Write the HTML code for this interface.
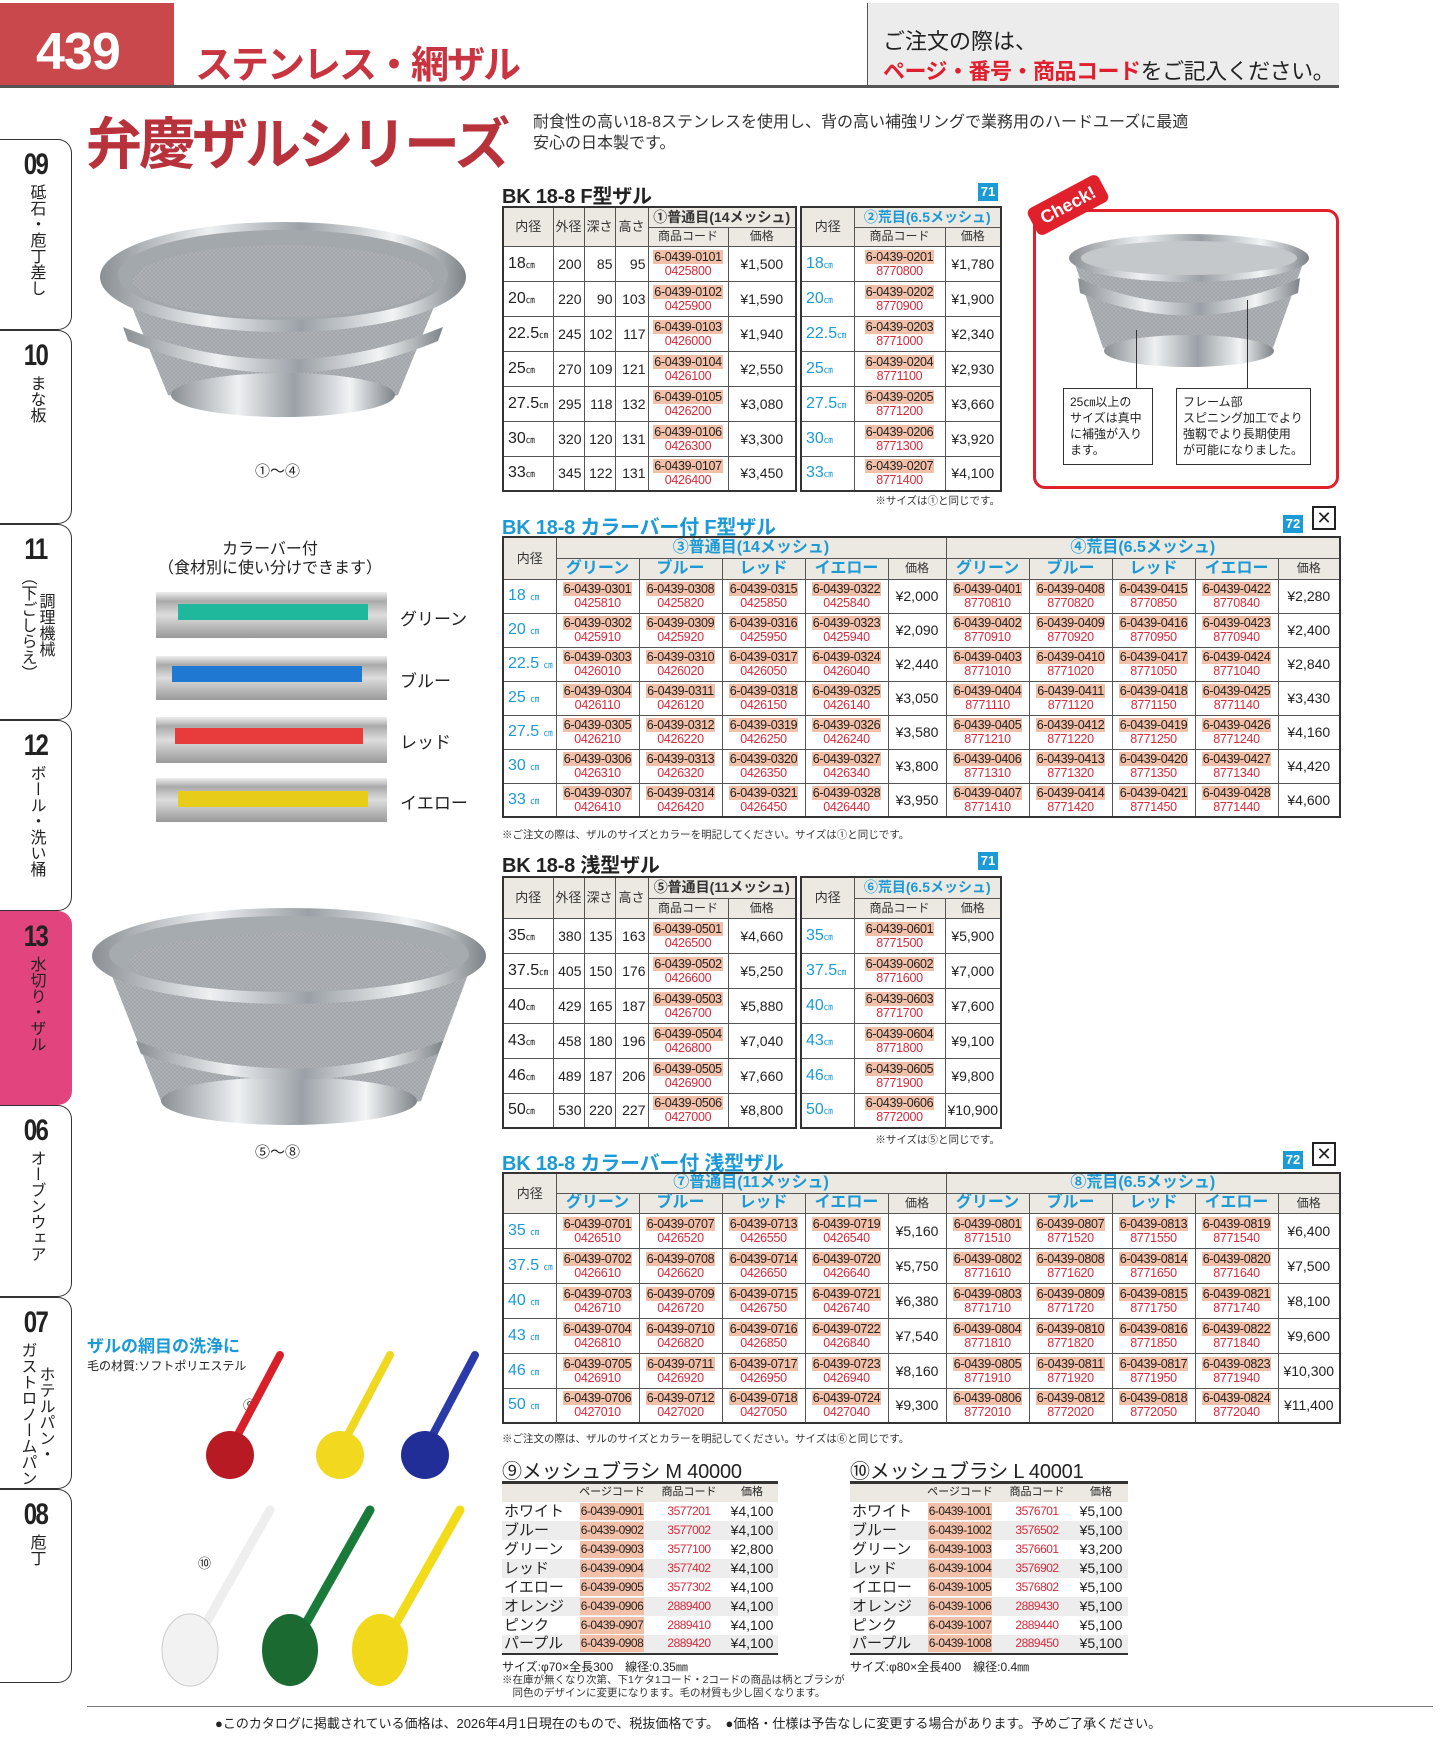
<!DOCTYPE html>
<html><head><meta charset="utf-8"><style>
*{margin:0;padding:0;box-sizing:border-box}
body{width:1444px;height:1754px;position:relative;background:#fff;font-family:"Liberation Sans","Noto Sans CJK JP",sans-serif;color:#222;overflow:hidden}
.a{position:absolute}
table{border-collapse:collapse;table-layout:fixed;position:absolute;border:2px solid #333}
td{border:1px solid #555;text-align:center;vertical-align:middle;padding:0;white-space:nowrap;overflow:hidden}
.h td{background:#ece8e2;font-size:13px;color:#333;line-height:15px}
.cd{font-size:12.5px;line-height:14px;letter-spacing:-.3px}
.cd b{font-weight:normal;background:#f2c0a8;color:#222;padding:0 1px;display:inline-block}
.cd i{font-style:normal;color:#d62a3a;display:block}
.sz{font-size:16px;text-align:left;padding-left:4px}
.sz small{font-size:9px}
.bl{color:#1c9ad6}
.pr{font-size:14px}
.n{font-size:14px;text-align:right;padding-right:2px}
.ttl{font-size:20px;font-weight:bold;letter-spacing:-.2px}
.ic{width:20px;height:18px;background:#1c9ad6;color:#fff;font-size:13px;font-weight:bold;text-align:center;line-height:18px}
.note{font-size:10.5px;color:#333}
.hc td.c{color:#1c9ad6;font-size:16px;font-weight:bold;line-height:18px}
.tab{position:absolute;left:0;width:72px;border:1.5px solid #333;border-left:none;border-radius:0 14px 14px 0;text-align:center}
.tab .num{font-size:30px;font-weight:bold;letter-spacing:-2px;margin-top:8px;transform:scaleX(.8)}
.tab .v{writing-mode:vertical-rl;font-size:16px;margin:2px auto 0;line-height:18px}
.bt{border:none;border-top:3px solid #333;border-bottom:2px solid #333}
.bt td{border:none;font-size:14px;line-height:17px;height:19px}
.bt tr.g td{background:#ededed}
.bt .nm{text-align:left;font-size:15px;padding-left:2px}
.bt .cd{font-size:12px;letter-spacing:-.5px;line-height:17px}
.bx{position:absolute;border:1.5px solid #333;background:#fff;font-size:12px;line-height:16px;padding:5px 6px;white-space:nowrap}
</style></head><body>

<!-- header -->
<div class="a" style="left:0;top:3px;width:174px;height:83px;background:#c8484c"></div>
<div class="a" style="left:36px;top:22px;color:#fff;font-size:52px;font-weight:bold;letter-spacing:-1px">439</div>
<div class="a" style="left:195px;top:34px;color:#c8343f;font-size:38px;font-weight:bold;letter-spacing:-2px">ステンレス・網ザル</div>
<div class="a" style="left:867px;top:3px;width:472px;height:83px;background:#ececec;border-left:1px solid #555"></div>
<div class="a" style="left:883px;top:24px;font-size:22px;color:#222">ご注文の際は、</div>
<div class="a" style="left:883px;top:54px;font-size:22px;color:#222;letter-spacing:-.5px"><span style="color:#e0202e;font-weight:bold">ページ・番号・商品コード</span>をご記入ください。</div>
<div class="a" style="left:0;top:85px;width:1339px;height:3px;background:#555"></div>

<div class="a" style="left:86px;top:100px;color:#b8323c;font-size:56px;font-weight:bold;letter-spacing:-3px">弁慶ザルシリーズ</div>
<div class="a" style="left:533px;top:112px;font-size:16px;line-height:21px;color:#333">耐食性の高い18-8ステンレスを使用し、背の高い補強リングで業務用のハードユーズに最適<br>安心の日本製です。</div>

<!-- tabs -->
<div class="tab" style="top:139px;height:191px"><div class="num">09</div><div class="v">砥石・庖丁差し</div></div>
<div class="tab" style="top:330px;height:194px"><div class="num">10</div><div class="v">まな板</div></div>
<div class="tab" style="top:524px;height:196px"><div class="num">11</div><div class="v">調理機械<br>（下ごしらえ）</div></div>
<div class="tab" style="top:720px;height:191px"><div class="num">12</div><div class="v">ボール・洗い桶</div></div>
<div class="tab" style="top:911px;height:194px;background:#e2457d;border-color:#e2457d"><div class="num">13</div><div class="v">水切り・ザル</div></div>
<div class="tab" style="top:1105px;height:192px"><div class="num">06</div><div class="v">オーブンウェア</div></div>
<div class="tab" style="top:1297px;height:192px"><div class="num">07</div><div class="v">ホテルパン・<br>ガストロノームパン</div></div>
<div class="tab" style="top:1489px;height:194px"><div class="num">08</div><div class="v">庖丁</div></div>

<!-- bowl 1 -->
<svg class="a" style="left:98px;top:217px" width="370" height="206">
<defs><linearGradient id="st" x1="0" x2="1"><stop offset="0" stop-color="#8a8f94"/><stop offset=".3" stop-color="#eef0f2"/><stop offset=".55" stop-color="#9aa0a6"/><stop offset=".8" stop-color="#f2f4f5"/><stop offset="1" stop-color="#7d8388"/></linearGradient>
<pattern id="mesh" width="4" height="4" patternUnits="userSpaceOnUse"><rect width="4" height="4" fill="#b0b4b8"/><path d="M0 0L4 4M4 0L0 4" stroke="#9a9ea2" stroke-width=".6"/></pattern></defs>
<path d="M30 80 Q185 150 340 80 L300 178 Q185 205 70 178Z" fill="url(#mesh)"/>
<ellipse cx="185" cy="178" rx="112" ry="22" fill="url(#st)"/>
<ellipse cx="185" cy="60" rx="183" ry="55" fill="url(#st)"/>
<ellipse cx="185" cy="58" rx="165" ry="45" fill="#a3a8ac"/>
<ellipse cx="185" cy="64" rx="150" ry="36" fill="url(#mesh)"/>
<path d="M25 110 Q185 175 345 110 L340 124 Q185 188 30 124Z" fill="url(#st)"/>
</svg>
<div class="a" style="left:255px;top:460px;font-size:15px">①〜④</div>

<!-- color bars -->
<div class="a" style="left:150px;top:540px;width:240px;text-align:center;font-size:16px;line-height:19px">カラーバー付<br>（食材別に使い分けできます）</div>
<div class="a" style="left:156px;top:592px;width:231px;height:46px;background:linear-gradient(#eee,#aaa 20%,#ddd 50%,#999)"></div><div class="a" style="left:178px;top:604px;width:190px;height:16px;background:#1fb89c"></div>
<div class="a" style="left:156px;top:656px;width:231px;height:44px;background:linear-gradient(#eee,#aaa 20%,#ddd 50%,#999)"></div><div class="a" style="left:172px;top:666px;width:190px;height:16px;background:#1f78d2"></div>
<div class="a" style="left:156px;top:717px;width:231px;height:46px;background:linear-gradient(#eee,#aaa 20%,#ddd 50%,#999)"></div><div class="a" style="left:175px;top:728px;width:188px;height:16px;background:#e83c3c"></div>
<div class="a" style="left:156px;top:778px;width:231px;height:44px;background:linear-gradient(#eee,#aaa 20%,#ddd 50%,#999)"></div><div class="a" style="left:178px;top:791px;width:190px;height:16px;background:#e8cc1a"></div>
<div class="a" style="left:400px;top:605px;font-size:17px">グリーン</div>
<div class="a" style="left:400px;top:667px;font-size:17px">ブルー</div>
<div class="a" style="left:400px;top:728px;font-size:17px">レッド</div>
<div class="a" style="left:400px;top:789px;font-size:17px">イエロー</div>

<!-- bowl 2 -->
<svg class="a" style="left:91px;top:906px" width="397" height="222">
<path d="M15 55 Q200 130 382 55 L330 195 Q200 220 70 195Z" fill="url(#mesh)"/>
<ellipse cx="198" cy="195" rx="128" ry="24" fill="url(#st)"/>
<ellipse cx="198" cy="50" rx="197" ry="48" fill="url(#st)"/>
<ellipse cx="198" cy="48" rx="180" ry="38" fill="#a6abaf"/>
<ellipse cx="198" cy="56" rx="160" ry="28" fill="url(#mesh)"/>
<path d="M45 135 Q200 190 352 135 L347 148 Q200 200 50 148Z" fill="url(#st)"/>
</svg>
<div class="a" style="left:255px;top:1141px;font-size:15px">⑤〜⑧</div>

<!-- brushes -->
<div class="a" style="left:87px;top:1332px;font-size:17px;font-weight:bold;color:#1c9ad6">ザルの網目の洗浄に</div>
<div class="a" style="left:87px;top:1357px;font-size:12px">毛の材質:ソフトポリエステル</div>
<div class="a" style="left:243px;top:1395px;font-size:13px">⑨</div>
<div class="a" style="left:198px;top:1553px;font-size:13px">⑩</div>
<svg class="a" style="left:150px;top:1345px" width="340" height="350">
<g stroke-linecap="round">
<line x1="130" y1="10" x2="85" y2="95" stroke="#d8202a" stroke-width="8"/><circle cx="80" cy="110" r="24" fill="#b81a24"/>
<line x1="240" y1="10" x2="195" y2="95" stroke="#f0d820" stroke-width="8"/><circle cx="190" cy="110" r="24" fill="#f2d81e"/>
<line x1="325" y1="10" x2="280" y2="95" stroke="#2a3aa8" stroke-width="8"/><circle cx="275" cy="110" r="24" fill="#222e98"/>
<line x1="120" y1="165" x2="55" y2="280" stroke="#eee" stroke-width="9"/><ellipse cx="40" cy="305" rx="28" ry="36" fill="#f2f2f2" stroke="#ccc"/>
<line x1="220" y1="165" x2="155" y2="280" stroke="#1a7a3a" stroke-width="9"/><ellipse cx="140" cy="305" rx="28" ry="36" fill="#1a6a32"/>
<line x1="310" y1="165" x2="245" y2="280" stroke="#f2dc1a" stroke-width="9"/><ellipse cx="230" cy="305" rx="28" ry="36" fill="#f2d81a"/>
</g></svg>

<!-- Check box -->
<div class="a" style="left:1033px;top:209px;width:306px;height:280px;border:3px solid #e0202a;border-radius:12px"></div>
<div class="a" style="left:1028px;top:190px;width:80px;height:30px;background:#e0202a;color:#fff;font-weight:bold;font-size:18px;transform:rotate(-28deg);text-align:center;line-height:30px;border-radius:6px">Check!</div>
<svg class="a" style="left:1068px;top:233px" width="244" height="140">
<path d="M5 25 Q120 70 237 25 L205 115 Q120 140 35 115Z" fill="url(#mesh)"/>
<ellipse cx="121" cy="118" rx="85" ry="16" fill="url(#st)"/>
<ellipse cx="121" cy="25" rx="120" ry="24" fill="url(#st)"/>
<ellipse cx="121" cy="25" rx="108" ry="17" fill="#c5c8ca"/>
<path d="M10 45 Q121 95 232 45 L230 60 Q121 105 12 60Z" fill="url(#st)"/>
</svg>
<div class="a" style="left:1136px;top:330px;width:1px;height:58px;background:#333"></div>
<div class="a" style="left:1247px;top:300px;width:1px;height:88px;background:#333"></div>
<div class="bx" style="left:1063px;top:388px;width:90px;height:77px">25㎝以上の<br>サイズは真中<br>に補強が入り<br>ます。</div>
<div class="bx" style="left:1176px;top:388px;width:135px;height:77px">フレーム部<br>スピニング加工でより<br>強靱でより長期使用<br>が可能になりました。</div>

<!-- Table 1 -->
<div class="a ttl" style="left:502px;top:180px">BK 18-8 F型ザル</div>
<div class="a ic" style="left:978px;top:183px">71</div>
<table style="left:502px;top:206px;width:293px">
<colgroup><col style="width:50px"><col style="width:31px"><col style="width:31px"><col style="width:33px"><col style="width:80px"><col style="width:68px"></colgroup>
<tr class="h" style="height:20px"><td rowspan="2">内径</td><td rowspan="2">外径</td><td rowspan="2">深さ</td><td rowspan="2">高さ</td><td colspan="2" style="font-size:14px;font-weight:bold">①普通目(14メッシュ)</td></tr>
<tr class="h" style="height:19px"><td style="font-size:12px">商品コード</td><td style="font-size:12px">価格</td></tr>
<tr style="height:35px"><td class="sz">18<small>㎝</small></td><td class="n">200</td><td class="n">85</td><td class="n">95</td><td class="cd"><b>6-0439-0101</b><i>0425800</i></td><td class="pr">¥1,500</td></tr>
<tr style="height:35px"><td class="sz">20<small>㎝</small></td><td class="n">220</td><td class="n">90</td><td class="n">103</td><td class="cd"><b>6-0439-0102</b><i>0425900</i></td><td class="pr">¥1,590</td></tr>
<tr style="height:35px"><td class="sz">22.5<small>㎝</small></td><td class="n">245</td><td class="n">102</td><td class="n">117</td><td class="cd"><b>6-0439-0103</b><i>0426000</i></td><td class="pr">¥1,940</td></tr>
<tr style="height:35px"><td class="sz">25<small>㎝</small></td><td class="n">270</td><td class="n">109</td><td class="n">121</td><td class="cd"><b>6-0439-0104</b><i>0426100</i></td><td class="pr">¥2,550</td></tr>
<tr style="height:35px"><td class="sz">27.5<small>㎝</small></td><td class="n">295</td><td class="n">118</td><td class="n">132</td><td class="cd"><b>6-0439-0105</b><i>0426200</i></td><td class="pr">¥3,080</td></tr>
<tr style="height:35px"><td class="sz">30<small>㎝</small></td><td class="n">320</td><td class="n">120</td><td class="n">131</td><td class="cd"><b>6-0439-0106</b><i>0426300</i></td><td class="pr">¥3,300</td></tr>
<tr style="height:35px"><td class="sz">33<small>㎝</small></td><td class="n">345</td><td class="n">122</td><td class="n">131</td><td class="cd"><b>6-0439-0107</b><i>0426400</i></td><td class="pr">¥3,450</td></tr>
</table>
<table style="left:800px;top:206px;width:200px">
<colgroup><col style="width:53px"><col style="width:91px"><col style="width:56px"></colgroup>
<tr class="h" style="height:20px"><td rowspan="2">内径</td><td colspan="2" style="font-size:14px;font-weight:bold;color:#1c9ad6">②荒目(6.5メッシュ)</td></tr>
<tr class="h" style="height:19px"><td style="font-size:12px">商品コード</td><td style="font-size:12px">価格</td></tr>
<tr style="height:35px"><td class="sz bl">18<small>㎝</small></td><td class="cd"><b>6-0439-0201</b><i>8770800</i></td><td class="pr">¥1,780</td></tr>
<tr style="height:35px"><td class="sz bl">20<small>㎝</small></td><td class="cd"><b>6-0439-0202</b><i>8770900</i></td><td class="pr">¥1,900</td></tr>
<tr style="height:35px"><td class="sz bl">22.5<small>㎝</small></td><td class="cd"><b>6-0439-0203</b><i>8771000</i></td><td class="pr">¥2,340</td></tr>
<tr style="height:35px"><td class="sz bl">25<small>㎝</small></td><td class="cd"><b>6-0439-0204</b><i>8771100</i></td><td class="pr">¥2,930</td></tr>
<tr style="height:35px"><td class="sz bl">27.5<small>㎝</small></td><td class="cd"><b>6-0439-0205</b><i>8771200</i></td><td class="pr">¥3,660</td></tr>
<tr style="height:35px"><td class="sz bl">30<small>㎝</small></td><td class="cd"><b>6-0439-0206</b><i>8771300</i></td><td class="pr">¥3,920</td></tr>
<tr style="height:35px"><td class="sz bl">33<small>㎝</small></td><td class="cd"><b>6-0439-0207</b><i>8771400</i></td><td class="pr">¥4,100</td></tr>
</table>
<div class="a note" style="left:870px;top:493px;width:130px;text-align:right">※サイズは①と同じです。</div>

<!-- Table 3 -->
<div class="a ttl bl" style="left:502px;top:511px">BK 18-8 カラーバー付 F型ザル</div>
<div class="a ic" style="left:1283px;top:515px">72</div>
<div class="a" style="left:1312px;top:506px;width:24px;height:24px;border:2px solid #222;font-size:18px;line-height:20px;text-align:center">✕</div>
<table class="hc" style="left:502px;top:536px;width:837px">
<colgroup><col style="width:53px"><col style="width:83px"><col style="width:83px"><col style="width:83px"><col style="width:83px"><col style="width:58px"><col style="width:83px"><col style="width:83px"><col style="width:83px"><col style="width:83px"><col style="width:62px"></colgroup>
<tr class="h" style="height:21px"><td rowspan="2">内径</td><td colspan="5" class="c">③普通目(14メッシュ)</td><td colspan="5" class="c">④荒目(6.5メッシュ)</td></tr>
<tr class="h" style="height:21px"><td class="c">グリーン</td><td class="c">ブルー</td><td class="c">レッド</td><td class="c">イエロー</td><td style="font-size:12px">価格</td><td class="c">グリーン</td><td class="c">ブルー</td><td class="c">レッド</td><td class="c">イエロー</td><td style="font-size:12px">価格</td></tr>
<tr style="height:34px"><td class="sz bl">18 <small>㎝</small></td><td class="cd"><b>6-0439-0301</b><i>0425810</i></td><td class="cd"><b>6-0439-0308</b><i>0425820</i></td><td class="cd"><b>6-0439-0315</b><i>0425850</i></td><td class="cd"><b>6-0439-0322</b><i>0425840</i></td><td class="pr">¥2,000</td><td class="cd"><b>6-0439-0401</b><i>8770810</i></td><td class="cd"><b>6-0439-0408</b><i>8770820</i></td><td class="cd"><b>6-0439-0415</b><i>8770850</i></td><td class="cd"><b>6-0439-0422</b><i>8770840</i></td><td class="pr">¥2,280</td></tr>
<tr style="height:34px"><td class="sz bl">20 <small>㎝</small></td><td class="cd"><b>6-0439-0302</b><i>0425910</i></td><td class="cd"><b>6-0439-0309</b><i>0425920</i></td><td class="cd"><b>6-0439-0316</b><i>0425950</i></td><td class="cd"><b>6-0439-0323</b><i>0425940</i></td><td class="pr">¥2,090</td><td class="cd"><b>6-0439-0402</b><i>8770910</i></td><td class="cd"><b>6-0439-0409</b><i>8770920</i></td><td class="cd"><b>6-0439-0416</b><i>8770950</i></td><td class="cd"><b>6-0439-0423</b><i>8770940</i></td><td class="pr">¥2,400</td></tr>
<tr style="height:34px"><td class="sz bl">22.5 <small>㎝</small></td><td class="cd"><b>6-0439-0303</b><i>0426010</i></td><td class="cd"><b>6-0439-0310</b><i>0426020</i></td><td class="cd"><b>6-0439-0317</b><i>0426050</i></td><td class="cd"><b>6-0439-0324</b><i>0426040</i></td><td class="pr">¥2,440</td><td class="cd"><b>6-0439-0403</b><i>8771010</i></td><td class="cd"><b>6-0439-0410</b><i>8771020</i></td><td class="cd"><b>6-0439-0417</b><i>8771050</i></td><td class="cd"><b>6-0439-0424</b><i>8771040</i></td><td class="pr">¥2,840</td></tr>
<tr style="height:34px"><td class="sz bl">25 <small>㎝</small></td><td class="cd"><b>6-0439-0304</b><i>0426110</i></td><td class="cd"><b>6-0439-0311</b><i>0426120</i></td><td class="cd"><b>6-0439-0318</b><i>0426150</i></td><td class="cd"><b>6-0439-0325</b><i>0426140</i></td><td class="pr">¥3,050</td><td class="cd"><b>6-0439-0404</b><i>8771110</i></td><td class="cd"><b>6-0439-0411</b><i>8771120</i></td><td class="cd"><b>6-0439-0418</b><i>8771150</i></td><td class="cd"><b>6-0439-0425</b><i>8771140</i></td><td class="pr">¥3,430</td></tr>
<tr style="height:34px"><td class="sz bl">27.5 <small>㎝</small></td><td class="cd"><b>6-0439-0305</b><i>0426210</i></td><td class="cd"><b>6-0439-0312</b><i>0426220</i></td><td class="cd"><b>6-0439-0319</b><i>0426250</i></td><td class="cd"><b>6-0439-0326</b><i>0426240</i></td><td class="pr">¥3,580</td><td class="cd"><b>6-0439-0405</b><i>8771210</i></td><td class="cd"><b>6-0439-0412</b><i>8771220</i></td><td class="cd"><b>6-0439-0419</b><i>8771250</i></td><td class="cd"><b>6-0439-0426</b><i>8771240</i></td><td class="pr">¥4,160</td></tr>
<tr style="height:34px"><td class="sz bl">30 <small>㎝</small></td><td class="cd"><b>6-0439-0306</b><i>0426310</i></td><td class="cd"><b>6-0439-0313</b><i>0426320</i></td><td class="cd"><b>6-0439-0320</b><i>0426350</i></td><td class="cd"><b>6-0439-0327</b><i>0426340</i></td><td class="pr">¥3,800</td><td class="cd"><b>6-0439-0406</b><i>8771310</i></td><td class="cd"><b>6-0439-0413</b><i>8771320</i></td><td class="cd"><b>6-0439-0420</b><i>8771350</i></td><td class="cd"><b>6-0439-0427</b><i>8771340</i></td><td class="pr">¥4,420</td></tr>
<tr style="height:34px"><td class="sz bl">33 <small>㎝</small></td><td class="cd"><b>6-0439-0307</b><i>0426410</i></td><td class="cd"><b>6-0439-0314</b><i>0426420</i></td><td class="cd"><b>6-0439-0321</b><i>0426450</i></td><td class="cd"><b>6-0439-0328</b><i>0426440</i></td><td class="pr">¥3,950</td><td class="cd"><b>6-0439-0407</b><i>8771410</i></td><td class="cd"><b>6-0439-0414</b><i>8771420</i></td><td class="cd"><b>6-0439-0421</b><i>8771450</i></td><td class="cd"><b>6-0439-0428</b><i>8771440</i></td><td class="pr">¥4,600</td></tr>
</table>
<div class="a note" style="left:502px;top:827px">※ご注文の際は、ザルのサイズとカラーを明記してください。サイズは①と同じです。</div>

<!-- Table 4 -->
<div class="a ttl" style="left:502px;top:849px">BK 18-8 浅型ザル</div>
<div class="a ic" style="left:978px;top:852px">71</div>
<table style="left:502px;top:876px;width:293px">
<colgroup><col style="width:50px"><col style="width:31px"><col style="width:31px"><col style="width:33px"><col style="width:80px"><col style="width:68px"></colgroup>
<tr class="h" style="height:21px"><td rowspan="2">内径</td><td rowspan="2">外径</td><td rowspan="2">深さ</td><td rowspan="2">高さ</td><td colspan="2" style="font-size:14px;font-weight:bold">⑤普通目(11メッシュ)</td></tr>
<tr class="h" style="height:20px"><td style="font-size:12px">商品コード</td><td style="font-size:12px">価格</td></tr>
<tr style="height:35px"><td class="sz">35<small>㎝</small></td><td class="n">380</td><td class="n">135</td><td class="n">163</td><td class="cd"><b>6-0439-0501</b><i>0426500</i></td><td class="pr">¥4,660</td></tr>
<tr style="height:35px"><td class="sz">37.5<small>㎝</small></td><td class="n">405</td><td class="n">150</td><td class="n">176</td><td class="cd"><b>6-0439-0502</b><i>0426600</i></td><td class="pr">¥5,250</td></tr>
<tr style="height:35px"><td class="sz">40<small>㎝</small></td><td class="n">429</td><td class="n">165</td><td class="n">187</td><td class="cd"><b>6-0439-0503</b><i>0426700</i></td><td class="pr">¥5,880</td></tr>
<tr style="height:35px"><td class="sz">43<small>㎝</small></td><td class="n">458</td><td class="n">180</td><td class="n">196</td><td class="cd"><b>6-0439-0504</b><i>0426800</i></td><td class="pr">¥7,040</td></tr>
<tr style="height:35px"><td class="sz">46<small>㎝</small></td><td class="n">489</td><td class="n">187</td><td class="n">206</td><td class="cd"><b>6-0439-0505</b><i>0426900</i></td><td class="pr">¥7,660</td></tr>
<tr style="height:35px"><td class="sz">50<small>㎝</small></td><td class="n">530</td><td class="n">220</td><td class="n">227</td><td class="cd"><b>6-0439-0506</b><i>0427000</i></td><td class="pr">¥8,800</td></tr>
</table>
<table style="left:800px;top:876px;width:200px">
<colgroup><col style="width:53px"><col style="width:91px"><col style="width:56px"></colgroup>
<tr class="h" style="height:21px"><td rowspan="2">内径</td><td colspan="2" style="font-size:14px;font-weight:bold;color:#1c9ad6">⑥荒目(6.5メッシュ)</td></tr>
<tr class="h" style="height:20px"><td style="font-size:12px">商品コード</td><td style="font-size:12px">価格</td></tr>
<tr style="height:35px"><td class="sz bl">35<small>㎝</small></td><td class="cd"><b>6-0439-0601</b><i>8771500</i></td><td class="pr">¥5,900</td></tr>
<tr style="height:35px"><td class="sz bl">37.5<small>㎝</small></td><td class="cd"><b>6-0439-0602</b><i>8771600</i></td><td class="pr">¥7,000</td></tr>
<tr style="height:35px"><td class="sz bl">40<small>㎝</small></td><td class="cd"><b>6-0439-0603</b><i>8771700</i></td><td class="pr">¥7,600</td></tr>
<tr style="height:35px"><td class="sz bl">43<small>㎝</small></td><td class="cd"><b>6-0439-0604</b><i>8771800</i></td><td class="pr">¥9,100</td></tr>
<tr style="height:35px"><td class="sz bl">46<small>㎝</small></td><td class="cd"><b>6-0439-0605</b><i>8771900</i></td><td class="pr">¥9,800</td></tr>
<tr style="height:35px"><td class="sz bl">50<small>㎝</small></td><td class="cd"><b>6-0439-0606</b><i>8772000</i></td><td class="pr">¥10,900</td></tr>
</table>
<div class="a note" style="left:870px;top:1132px;width:130px;text-align:right">※サイズは⑤と同じです。</div>

<!-- Table 5 -->
<div class="a ttl bl" style="left:502px;top:1147px">BK 18-8 カラーバー付 浅型ザル</div>
<div class="a ic" style="left:1283px;top:1151px">72</div>
<div class="a" style="left:1312px;top:1142px;width:24px;height:24px;border:2px solid #222;font-size:18px;line-height:20px;text-align:center">✕</div>
<table class="hc" style="left:502px;top:1172px;width:837px">
<colgroup><col style="width:53px"><col style="width:83px"><col style="width:83px"><col style="width:83px"><col style="width:83px"><col style="width:58px"><col style="width:83px"><col style="width:83px"><col style="width:83px"><col style="width:83px"><col style="width:62px"></colgroup>
<tr class="h" style="height:20px"><td rowspan="2">内径</td><td colspan="5" class="c">⑦普通目(11メッシュ)</td><td colspan="5" class="c">⑧荒目(6.5メッシュ)</td></tr>
<tr class="h" style="height:20px"><td class="c">グリーン</td><td class="c">ブルー</td><td class="c">レッド</td><td class="c">イエロー</td><td style="font-size:12px">価格</td><td class="c">グリーン</td><td class="c">ブルー</td><td class="c">レッド</td><td class="c">イエロー</td><td style="font-size:12px">価格</td></tr>
<tr style="height:35px"><td class="sz bl">35 <small>㎝</small></td><td class="cd"><b>6-0439-0701</b><i>0426510</i></td><td class="cd"><b>6-0439-0707</b><i>0426520</i></td><td class="cd"><b>6-0439-0713</b><i>0426550</i></td><td class="cd"><b>6-0439-0719</b><i>0426540</i></td><td class="pr">¥5,160</td><td class="cd"><b>6-0439-0801</b><i>8771510</i></td><td class="cd"><b>6-0439-0807</b><i>8771520</i></td><td class="cd"><b>6-0439-0813</b><i>8771550</i></td><td class="cd"><b>6-0439-0819</b><i>8771540</i></td><td class="pr">¥6,400</td></tr>
<tr style="height:35px"><td class="sz bl">37.5 <small>㎝</small></td><td class="cd"><b>6-0439-0702</b><i>0426610</i></td><td class="cd"><b>6-0439-0708</b><i>0426620</i></td><td class="cd"><b>6-0439-0714</b><i>0426650</i></td><td class="cd"><b>6-0439-0720</b><i>0426640</i></td><td class="pr">¥5,750</td><td class="cd"><b>6-0439-0802</b><i>8771610</i></td><td class="cd"><b>6-0439-0808</b><i>8771620</i></td><td class="cd"><b>6-0439-0814</b><i>8771650</i></td><td class="cd"><b>6-0439-0820</b><i>8771640</i></td><td class="pr">¥7,500</td></tr>
<tr style="height:35px"><td class="sz bl">40 <small>㎝</small></td><td class="cd"><b>6-0439-0703</b><i>0426710</i></td><td class="cd"><b>6-0439-0709</b><i>0426720</i></td><td class="cd"><b>6-0439-0715</b><i>0426750</i></td><td class="cd"><b>6-0439-0721</b><i>0426740</i></td><td class="pr">¥6,380</td><td class="cd"><b>6-0439-0803</b><i>8771710</i></td><td class="cd"><b>6-0439-0809</b><i>8771720</i></td><td class="cd"><b>6-0439-0815</b><i>8771750</i></td><td class="cd"><b>6-0439-0821</b><i>8771740</i></td><td class="pr">¥8,100</td></tr>
<tr style="height:35px"><td class="sz bl">43 <small>㎝</small></td><td class="cd"><b>6-0439-0704</b><i>0426810</i></td><td class="cd"><b>6-0439-0710</b><i>0426820</i></td><td class="cd"><b>6-0439-0716</b><i>0426850</i></td><td class="cd"><b>6-0439-0722</b><i>0426840</i></td><td class="pr">¥7,540</td><td class="cd"><b>6-0439-0804</b><i>8771810</i></td><td class="cd"><b>6-0439-0810</b><i>8771820</i></td><td class="cd"><b>6-0439-0816</b><i>8771850</i></td><td class="cd"><b>6-0439-0822</b><i>8771840</i></td><td class="pr">¥9,600</td></tr>
<tr style="height:35px"><td class="sz bl">46 <small>㎝</small></td><td class="cd"><b>6-0439-0705</b><i>0426910</i></td><td class="cd"><b>6-0439-0711</b><i>0426920</i></td><td class="cd"><b>6-0439-0717</b><i>0426950</i></td><td class="cd"><b>6-0439-0723</b><i>0426940</i></td><td class="pr">¥8,160</td><td class="cd"><b>6-0439-0805</b><i>8771910</i></td><td class="cd"><b>6-0439-0811</b><i>8771920</i></td><td class="cd"><b>6-0439-0817</b><i>8771950</i></td><td class="cd"><b>6-0439-0823</b><i>8771940</i></td><td class="pr">¥10,300</td></tr>
<tr style="height:35px"><td class="sz bl">50 <small>㎝</small></td><td class="cd"><b>6-0439-0706</b><i>0427010</i></td><td class="cd"><b>6-0439-0712</b><i>0427020</i></td><td class="cd"><b>6-0439-0718</b><i>0427050</i></td><td class="cd"><b>6-0439-0724</b><i>0427040</i></td><td class="pr">¥9,300</td><td class="cd"><b>6-0439-0806</b><i>8772010</i></td><td class="cd"><b>6-0439-0812</b><i>8772020</i></td><td class="cd"><b>6-0439-0818</b><i>8772050</i></td><td class="cd"><b>6-0439-0824</b><i>8772040</i></td><td class="pr">¥11,400</td></tr>
</table>
<div class="a note" style="left:502px;top:1431px">※ご注文の際は、ザルのサイズとカラーを明記してください。サイズは⑥と同じです。</div>

<!-- Brush tables -->
<div class="a ttl" style="left:502px;top:1455px;font-weight:normal">⑨メッシュブラシ M 40000</div>
<table class="bt" style="left:502px;top:1481px;width:276px">
<colgroup><col style="width:70px"><col style="width:80px"><col style="width:74px"><col style="width:52px"></colgroup>
<tr><td style="background:#ece8e2"></td><td style="background:#ece8e2;font-size:11px">ページコード</td><td style="background:#ece8e2;font-size:11px">商品コード</td><td style="background:#ece8e2;font-size:11px">価格</td></tr>
<tr><td class="nm">ホワイト</td><td class="cd"><b>6-0439-0901</b></td><td class="cd"><i>3577201</i></td><td>¥4,100</td></tr>
<tr class="g"><td class="nm">ブルー</td><td class="cd"><b>6-0439-0902</b></td><td class="cd"><i>3577002</i></td><td>¥4,100</td></tr>
<tr><td class="nm">グリーン</td><td class="cd"><b>6-0439-0903</b></td><td class="cd"><i>3577100</i></td><td>¥2,800</td></tr>
<tr class="g"><td class="nm">レッド</td><td class="cd"><b>6-0439-0904</b></td><td class="cd"><i>3577402</i></td><td>¥4,100</td></tr>
<tr><td class="nm">イエロー</td><td class="cd"><b>6-0439-0905</b></td><td class="cd"><i>3577302</i></td><td>¥4,100</td></tr>
<tr class="g"><td class="nm">オレンジ</td><td class="cd"><b>6-0439-0906</b></td><td class="cd"><i>2889400</i></td><td>¥4,100</td></tr>
<tr><td class="nm">ピンク</td><td class="cd"><b>6-0439-0907</b></td><td class="cd"><i>2889410</i></td><td>¥4,100</td></tr>
<tr class="g"><td class="nm">パープル</td><td class="cd"><b>6-0439-0908</b></td><td class="cd"><i>2889420</i></td><td>¥4,100</td></tr>
</table>
<div class="a" style="left:502px;top:1658px;font-size:12px">サイズ:φ70×全長300　線径:0.35㎜</div>
<div class="a note" style="left:502px;top:1674px;line-height:13px">※在庫が無くなり次第、下1ケタ1コード・2コードの商品は柄とブラシが<br>　同色のデザインに変更になります。毛の材質も少し固くなります。</div>

<div class="a ttl" style="left:850px;top:1455px;font-weight:normal">⑩メッシュブラシ L 40001</div>
<table class="bt" style="left:850px;top:1481px;width:278px">
<colgroup><col style="width:70px"><col style="width:80px"><col style="width:74px"><col style="width:54px"></colgroup>
<tr><td style="background:#ece8e2"></td><td style="background:#ece8e2;font-size:11px">ページコード</td><td style="background:#ece8e2;font-size:11px">商品コード</td><td style="background:#ece8e2;font-size:11px">価格</td></tr>
<tr><td class="nm">ホワイト</td><td class="cd"><b>6-0439-1001</b></td><td class="cd"><i>3576701</i></td><td>¥5,100</td></tr>
<tr class="g"><td class="nm">ブルー</td><td class="cd"><b>6-0439-1002</b></td><td class="cd"><i>3576502</i></td><td>¥5,100</td></tr>
<tr><td class="nm">グリーン</td><td class="cd"><b>6-0439-1003</b></td><td class="cd"><i>3576601</i></td><td>¥3,200</td></tr>
<tr class="g"><td class="nm">レッド</td><td class="cd"><b>6-0439-1004</b></td><td class="cd"><i>3576902</i></td><td>¥5,100</td></tr>
<tr><td class="nm">イエロー</td><td class="cd"><b>6-0439-1005</b></td><td class="cd"><i>3576802</i></td><td>¥5,100</td></tr>
<tr class="g"><td class="nm">オレンジ</td><td class="cd"><b>6-0439-1006</b></td><td class="cd"><i>2889430</i></td><td>¥5,100</td></tr>
<tr><td class="nm">ピンク</td><td class="cd"><b>6-0439-1007</b></td><td class="cd"><i>2889440</i></td><td>¥5,100</td></tr>
<tr class="g"><td class="nm">パープル</td><td class="cd"><b>6-0439-1008</b></td><td class="cd"><i>2889450</i></td><td>¥5,100</td></tr>
</table>
<div class="a" style="left:850px;top:1658px;font-size:12px">サイズ:φ80×全長400　線径:0.4㎜</div>

<!-- footer -->
<div class="a" style="left:87px;top:1706px;width:1346px;height:1px;background:#777"></div>
<div class="a" style="left:215px;top:1713px;font-size:13px;color:#222">●このカタログに掲載されている価格は、2026年4月1日現在のもので、税抜価格です。　●価格・仕様は予告なしに変更する場合があります。予めご了承ください。</div>
</body></html>
